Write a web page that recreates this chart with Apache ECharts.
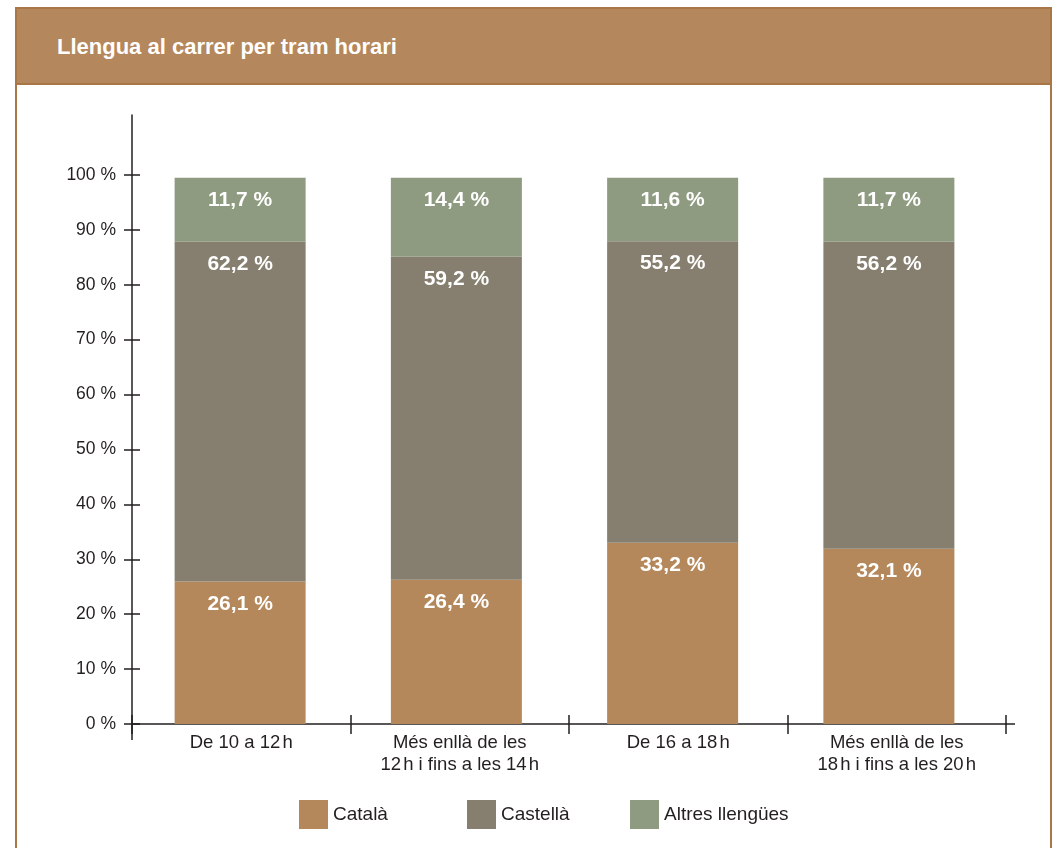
<!DOCTYPE html>
<html>
<head>
<meta charset="utf-8">
<script src="https://cdn.jsdelivr.net/npm/echarts@6/dist/echarts.min.js"></script>
<style>
  html, body { margin: 0; padding: 0; background: #ffffff; }
  body { width: 1055px; height: 848px; position: relative; overflow: hidden; }
  #frame {
    position: absolute; left: 15px; top: 7px; width: 1033px; height: 900px;
    border: 2px solid #a97647; box-sizing: content-box;
  }
  #header {
    height: 74px; background: #b5875c; border-bottom: 2px solid #a97647;
    font-family: "Liberation Sans", Arial, sans-serif; font-weight: bold;
    font-size: 22px; color: #ffffff; line-height: 76px; padding-left: 40px;
  }
  #chart { position: absolute; left: 0; top: 0; width: 1055px; height: 848px; }
</style>
</head>
<body>
<div id="frame"><div id="header">Llengua al carrer per tram horari</div></div>
<div id="chart"></div>
<script>
// Time slots and language shares (percent of conversations heard in the street)
const categories = [
  'De 10 a 12\u2009h',
  'Més enllà de les\n12\u2009h i fins a les 14\u2009h',
  'De 16 a 18\u2009h',
  'Més enllà de les\n18\u2009h i fins a les 20\u2009h'
];
const catala = [26.1, 26.4, 33.2, 32.1];
const castella = [62.2, 59.2, 55.2, 56.2];
const altres = [11.7, 14.4, 11.6, 11.7];
const yTicks = [0, 10, 20, 30, 40, 50, 60, 70, 80, 90, 100];
const seriesNames = ['Català', 'Castellà', 'Altres llengües'];

const FONT = '"Liberation Sans", Arial, sans-serif';
const INK = '#231f20';
const colors = ['#b5885c', '#867f6f', '#8e9b80'];

const fmtPct = v => v.toFixed(1).replace('.', ',') + ' %';
// thin spaces are drawn as a small-size regular space
const thin = s => s.replace(/\u2009/g, '{t| }');

const chart = echarts.init(document.getElementById('chart'), null, { renderer: 'canvas' });

const valueLabel = {
  show: true,
  position: 'insideTop',
  distance: 12,
  color: '#ffffff',
  fontFamily: FONT,
  fontWeight: 'bold',
  fontSize: 21,
  formatter: p => fmtPct(p.value)
};

function barSeries(name, data, color) {
  return {
    name: name,
    type: 'bar',
    stack: 'total',
    xAxisIndex: 2,
    yAxisIndex: 2,
    data: data,
    barWidth: 131,
    itemStyle: { color: color },
    label: valueLabel,
    emphasis: { disabled: true }
  };
}

const lineStyle = { color: INK, width: 1.5 };

const legendBase = {
  orient: 'horizontal',
  top: 800,
  padding: 0,
  itemWidth: 29,
  itemHeight: 29,
  icon: 'rect',
  selectedMode: false,
  textStyle: { fontFamily: FONT, fontSize: 19, color: INK, padding: [4, 0, 0, 0] }
};

chart.setOption({
  animation: false,
  backgroundColor: 'transparent',
  color: colors,
  grid: [
    // axes frame
    { left: 132, right: 49, top: 115, bottom: 124, containLabel: false },
    // bar area
    { left: 132, right: 58, top: 115, bottom: 124, containLabel: false }
  ],
  legend: [
    Object.assign({}, legendBase, { left: 299, data: [seriesNames[0]] }),
    Object.assign({}, legendBase, { left: 467, data: [seriesNames[1]] }),
    Object.assign({}, legendBase, { left: 630, data: [seriesNames[2]] })
  ],
  xAxis: [
    {
      type: 'category',
      gridIndex: 0,
      data: categories,
      position: 'bottom',
      axisLine: { show: true, onZero: false, lineStyle: lineStyle },
      axisTick: { show: true, inside: false, length: 10, lineStyle: lineStyle },
      axisLabel: {
        color: INK, fontFamily: FONT, fontSize: 18.5, lineHeight: 22, margin: 8,
        interval: 0,
        formatter: v => thin(v),
        rich: { t: { fontSize: 8, lineHeight: 22 } }
      }
    },
    {
      type: 'category',
      gridIndex: 0,
      data: categories,
      position: 'bottom',
      axisLine: { show: false, onZero: false },
      axisTick: { show: true, inside: true, length: 9, lineStyle: lineStyle },
      axisLabel: { show: false }
    },
    {
      type: 'category',
      gridIndex: 1,
      data: categories,
      show: false
    }
  ],
  yAxis: [
    {
      type: 'value',
      gridIndex: 0,
      position: 'left',
      min: 0,
      max: 110.9,
      splitLine: { show: false },
      axisLine: { show: true, lineStyle: lineStyle },
      axisTick: { show: true, inside: false, length: 8, customValues: yTicks, lineStyle: lineStyle },
      axisLabel: {
        show: true, customValues: yTicks, margin: 16,
        color: INK, fontFamily: FONT, fontSize: 17.5,
        formatter: v => v + ' %'
      }
    },
    {
      type: 'value',
      gridIndex: 0,
      position: 'left',
      offset: 0,
      min: 0,
      max: 110.9,
      splitLine: { show: false },
      axisLine: { show: false },
      axisTick: { show: true, inside: true, length: 8, customValues: yTicks, lineStyle: lineStyle },
      axisLabel: { show: false }
    },
    {
      type: 'value',
      gridIndex: 1,
      min: 0,
      max: 111.5,
      show: false,
      splitLine: { show: false }
    }
  ],
  series: [
    barSeries(seriesNames[0], catala, colors[0]),
    barSeries(seriesNames[1], castella, colors[1]),
    barSeries(seriesNames[2], altres, colors[2])
  ]
});

// Axis lines run a little past the plot: y axis below zero, x axis past the last slot
const origin = chart.convertToPixel({ xAxisIndex: 0, yAxisIndex: 0 }, [0, 0]);
const gridRight = chart.getWidth() - 49;
chart.setOption({
  graphic: [
    {
      type: 'line',
      shape: { x1: 132, y1: origin[1], x2: 132, y2: origin[1] + 16 },
      style: { stroke: INK, lineWidth: 1.5 },
      silent: true
    },
    {
      type: 'line',
      shape: { x1: gridRight, y1: origin[1], x2: gridRight + 9, y2: origin[1] },
      style: { stroke: INK, lineWidth: 1.5 },
      silent: true
    }
  ]
});
</script>
</body>
</html>
